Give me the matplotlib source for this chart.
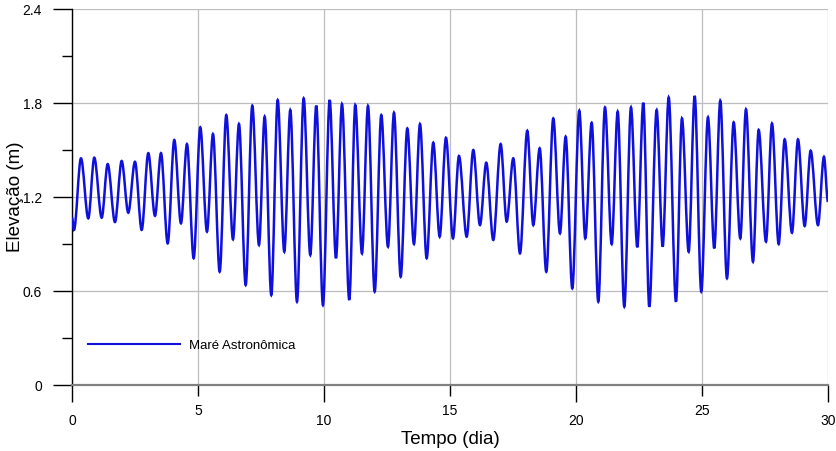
import matplotlib.pyplot as plt
from matplotlib.path import Path
from matplotlib.patches import PathPatch
from matplotlib.lines import Line2D
from matplotlib.ticker import MultipleLocator

plt.rcParams['font.family'] = ['Liberation Sans', 'DejaVu Sans']

# tide extremes (high / low), time in days, elevation in m
t_ext = [0.00, 0.08,
         0.357, 0.647, 0.885, 1.179, 1.417, 1.706, 1.972, 2.234, 2.500, 2.766, 3.028, 3.294, 3.532,
         3.798, 4.060, 4.325, 4.563, 4.829, 5.091, 5.357, 5.595, 5.861, 6.123, 6.389, 6.627, 6.893, 7.155, 7.421,
         7.647, 7.909, 8.163, 8.425, 8.663, 8.929, 9.194, 9.456, 9.694, 9.960, 10.226, 10.476, 10.714, 11.004, 11.242,
         11.508, 11.746, 12.012, 12.274, 12.540, 12.778, 13.044, 13.306, 13.571, 13.810, 14.075, 14.337, 14.591, 14.841, 15.119,
         15.357, 15.663, 15.925, 16.190, 16.440, 16.718, 17.012, 17.250, 17.512, 17.778, 18.067, 18.306, 18.560, 18.821,
         19.099, 19.365, 19.591, 19.853, 20.131, 20.369, 20.623, 20.885, 21.151, 21.417, 21.655, 21.917, 22.183, 22.433, 22.671,
         22.909, 23.202, 23.440, 23.679, 23.968, 24.206, 24.472, 24.710, 24.972, 25.238, 25.488, 25.726, 25.992, 26.258, 26.520,
         26.746, 27.024, 27.250, 27.540, 27.778, 28.044, 28.282, 28.571, 28.810, 29.075, 29.313, 29.603, 29.841, 30.0]
h_ext = [1.07, 0.99,
         1.447, 1.064, 1.451, 1.068, 1.41, 1.04, 1.43, 1.10, 1.425, 0.99, 1.48, 1.08, 1.48,
         0.904, 1.564, 1.032, 1.538, 0.809, 1.645, 0.979, 1.602, 0.723, 1.723, 0.93, 1.666, 0.638, 1.783, 0.894,
         1.713, 0.574, 1.819, 0.851, 1.755, 0.532, 1.83, 0.83, 1.783, 0.51, 1.819, 0.809, 1.793, 0.543, 1.787,
         0.84, 1.781, 0.596, 1.723, 0.883, 1.738, 0.691, 1.638, 0.90, 1.666, 0.809, 1.547, 0.947, 1.578, 0.936,
         1.462, 0.947, 1.50, 1.021, 1.419, 0.926, 1.538, 1.043, 1.447, 0.84, 1.623, 1.021, 1.511, 0.723,
         1.702, 0.968, 1.585, 0.617, 1.751, 0.936, 1.674, 0.532, 1.772, 0.90, 1.745, 0.50, 1.772, 0.879, 1.802,
         0.50, 1.755, 0.883, 1.836, 0.532, 1.702, 0.851, 1.845, 0.596, 1.709, 0.872, 1.815, 0.681, 1.677, 0.936,
         1.76, 0.787, 1.628, 0.915, 1.670, 0.90, 1.568, 0.972, 1.568, 1.015, 1.496, 1.021, 1.457, 1.17]

x_major = [0, 10, 20, 30]
x_minor = [5, 15, 25]
y_ticks = [0, 0.6, 1.2, 1.8, 2.4]
y_labels = ['0', '0.6', '1.2', '1.8', '2.4']
legend_label = 'Maré Astronômica'
blue = '#1010dc'

fig = plt.figure(figsize=(8.36, 4.51), dpi=100)
ax = fig.add_axes([0.0861, 0.1463, 0.9043, 0.8337])

# smooth curve through the extremes (flat tangent at each high / low)
verts = [(t_ext[0], h_ext[0])]
codes = [Path.MOVETO]
for i in range(1, len(t_ext)):
    dt = t_ext[i] - t_ext[i - 1]
    verts += [(t_ext[i - 1] + dt / 3, h_ext[i - 1]), (t_ext[i] - dt / 3, h_ext[i]), (t_ext[i], h_ext[i])]
    codes += [Path.CURVE4] * 3
ax.add_patch(PathPatch(Path(verts, codes), fill=False, edgecolor=blue, lw=1.8, zorder=3))

ax.set_xlim(0, 30)
ax.set_ylim(0, 2.4)

ax.set_xticks(x_major)
ax.set_xticks(x_minor, minor=True)
ax.set_xticklabels([str(v) for v in x_major])
ax.set_xticklabels([str(v) for v in x_minor], minor=True)
ax.set_yticks(y_ticks)
ax.set_yticklabels(y_labels)
ax.yaxis.set_minor_locator(MultipleLocator(0.3))

ax.tick_params(axis='both', which='both', direction='out', labelsize=10, colors='black', width=1)
ax.tick_params(axis='x', which='major', length=12.5, pad=8.4)
ax.tick_params(axis='x', which='minor', length=8, pad=5.6)
ax.tick_params(axis='y', which='major', length=14, pad=7.5)
ax.tick_params(axis='y', which='minor', length=7, labelleft=False)
for i, tk in enumerate(ax.yaxis.get_major_ticks()):
    if i in (0, 2, 4):
        tk.tick1line.set_color('#8c8c8c')

ax.grid(True, which='major', axis='y', color='#bdbdbd', lw=0.9)
ax.grid(True, which='both', axis='x', color='#bdbdbd', lw=0.9)
ax.set_axisbelow(True)

for s in ['top', 'right']:
    ax.spines[s].set_visible(False)
ax.spines['bottom'].set_color('#808080')
ax.spines['bottom'].set_linewidth(1.6)
ax.spines['left'].set_color('black')
ax.spines['left'].set_linewidth(1)

ax.set_xlabel('Tempo (dia)', fontsize=13.5)
ax.set_ylabel('Elevação (m)', fontsize=13.5)
ax.xaxis.set_label_coords(0.5, -0.121)
ax.yaxis.set_label_coords(-0.0635, 0.5)

handle = Line2D([], [], color=blue, lw=1.5)
ax.legend([handle], [legend_label], loc='center left', bbox_to_anchor=(0.021, 0.104),
          frameon=False, fontsize=9.5, handlelength=7.0, handletextpad=0.65,
          borderpad=0, borderaxespad=0)

fig.savefig('out.png', dpi=100)
